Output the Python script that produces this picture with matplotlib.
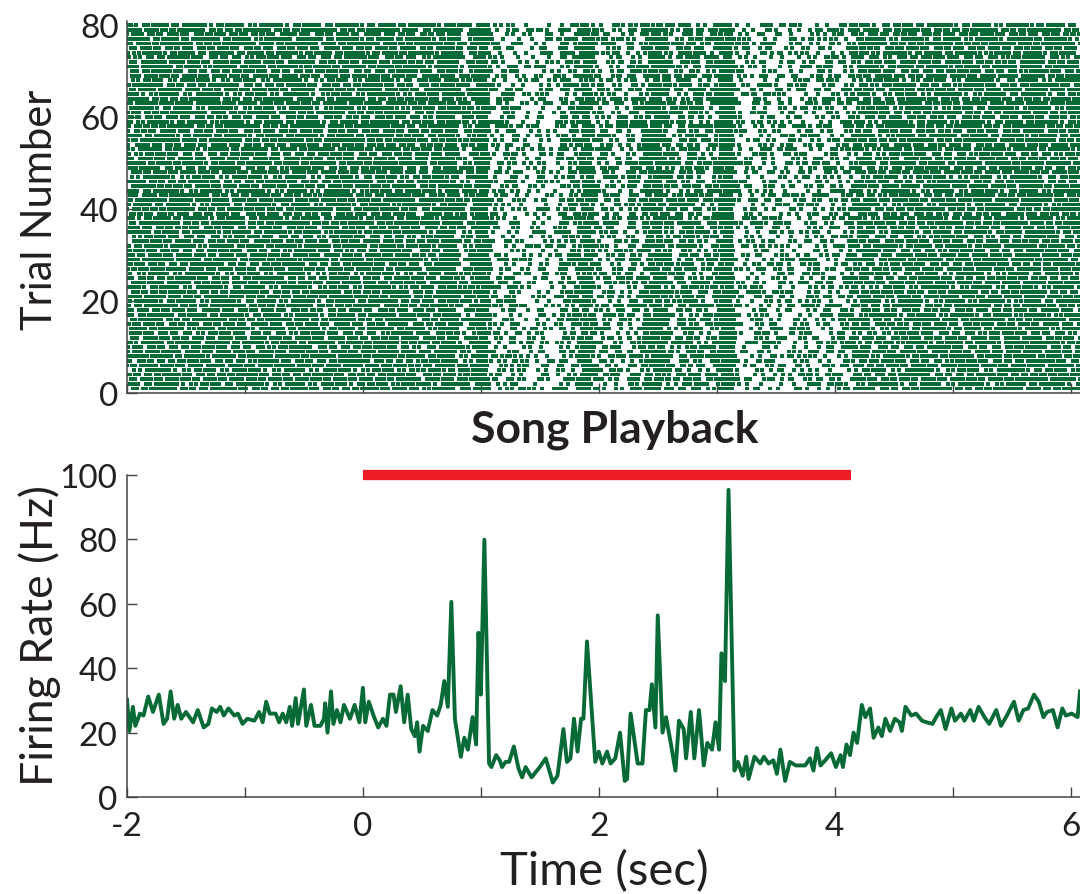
import numpy as np
import matplotlib
matplotlib.use("Agg")
import matplotlib.pyplot as plt

plt.rcParams['font.family'] = ['Lato', 'DejaVu Sans']

# PSTH (time in s, rate in Hz)
rate_t = [-2.00, -1.98, -1.95, -1.93, -1.89, -1.86, -1.82, -1.78, -1.73, -1.69,
          -1.66, -1.63, -1.60, -1.57, -1.54, -1.50, -1.44, -1.40, -1.35, -1.31,
          -1.28, -1.24, -1.21, -1.18, -1.14, -1.09, -1.06, -1.02, -0.98, -0.92,
          -0.88, -0.85, -0.82, -0.79, -0.74, -0.71, -0.68, -0.65, -0.62, -0.60,
          -0.57, -0.55, -0.50, -0.48, -0.44, -0.41, -0.36, -0.33, -0.32, -0.30,
          -0.27, -0.25, -0.22, -0.19, -0.16, -0.11, -0.07, -0.03, 0.00, 0.02,
          0.05, 0.09, 0.13, 0.17, 0.20, 0.23, 0.26, 0.28, 0.32, 0.35,
          0.38, 0.41, 0.44, 0.46, 0.48, 0.51, 0.55, 0.59, 0.63, 0.66,
          0.69, 0.72, 0.75, 0.78, 0.83, 0.86, 0.89, 0.93, 0.96, 0.98,
          1.00, 1.03, 1.07, 1.09, 1.13, 1.16, 1.18, 1.21, 1.24, 1.28,
          1.32, 1.35, 1.38, 1.43, 1.50, 1.55, 1.61, 1.65, 1.70, 1.73,
          1.76, 1.79, 1.82, 1.85, 1.87, 1.90, 1.97, 2.00, 2.03, 2.07,
          2.10, 2.14, 2.18, 2.22, 2.24, 2.27, 2.33, 2.37, 2.40, 2.43,
          2.45, 2.48, 2.50, 2.54, 2.57, 2.61, 2.65, 2.68, 2.72, 2.74,
          2.78, 2.81, 2.85, 2.89, 2.92, 2.96, 2.99, 3.02, 3.04, 3.07,
          3.10, 3.15, 3.18, 3.22, 3.25, 3.27, 3.32, 3.37, 3.40, 3.44,
          3.48, 3.51, 3.54, 3.58, 3.62, 3.67, 3.75, 3.79, 3.82, 3.85,
          3.88, 3.92, 3.97, 4.01, 4.05, 4.07, 4.10, 4.13, 4.16, 4.19,
          4.23, 4.26, 4.30, 4.33, 4.37, 4.40, 4.43, 4.47, 4.51, 4.55,
          4.57, 4.60, 4.65, 4.69, 4.74, 4.78, 4.83, 4.86, 4.90, 4.94,
          4.99, 5.02, 5.07, 5.10, 5.15, 5.18, 5.22, 5.27, 5.31, 5.37,
          5.41, 5.46, 5.52, 5.56, 5.60, 5.64, 5.69, 5.73, 5.77, 5.80,
          5.85, 5.89, 5.93, 5.96, 6.01, 6.06, 6.08]
rate_hz = [30.2, 20.5, 28.0, 22.1, 25.9, 25.3, 31.2, 26.4, 31.8, 22.7,
           24.3, 32.8, 24.3, 28.6, 24.3, 26.4, 23.2, 27.0, 21.6, 22.7,
           27.5, 26.4, 28.0, 25.3, 27.5, 25.3, 25.9, 22.7, 24.3, 23.7,
           26.4, 23.2, 29.6, 25.9, 25.9, 23.2, 25.9, 23.2, 28.0, 22.1,
           30.7, 22.7, 33.4, 22.1, 28.6, 22.1, 22.1, 24.3, 29.1, 20.0,
           32.8, 22.7, 27.0, 23.2, 28.6, 24.3, 28.6, 23.2, 33.9, 23.2,
           29.6, 25.3, 21.6, 24.3, 22.1, 31.8, 31.8, 26.4, 34.4, 23.2,
           31.8, 21.1, 18.9, 23.2, 14.1, 22.1, 20.5, 27.0, 25.3, 28.6,
           36.0, 28.0, 60.6, 24.3, 12.5, 18.4, 14.7, 24.8, 16.3, 51.0,
           31.8, 79.9, 10.4, 9.3, 13.0, 11.4, 9.3, 10.9, 10.9, 15.7,
           8.8, 6.1, 9.3, 6.1, 9.3, 12.0, 4.5, 6.6, 21.1, 10.9,
           12.0, 24.3, 14.1, 24.3, 24.3, 48.3, 10.9, 14.1, 10.4, 14.1,
           10.4, 12.0, 20.0, 5.0, 5.6, 25.9, 10.4, 10.4, 27.0, 27.0,
           35.0, 21.6, 56.4, 20.0, 24.8, 16.8, 8.2, 23.7, 21.1, 12.0,
           26.4, 12.0, 27.0, 9.8, 16.8, 14.7, 23.2, 14.7, 44.6, 36.0,
           95.4, 8.2, 10.9, 6.6, 12.5, 5.6, 12.5, 10.4, 12.5, 10.4,
           11.4, 7.2, 14.7, 5.0, 10.9, 9.8, 9.8, 12.0, 8.2, 15.2,
           9.8, 11.4, 13.6, 9.3, 13.0, 9.3, 16.3, 13.0, 20.0, 16.8,
           28.6, 24.8, 27.5, 18.4, 21.6, 18.9, 24.3, 20.5, 24.3, 23.2,
           20.5, 28.0, 25.3, 25.9, 23.7, 23.2, 22.7, 24.8, 27.0, 21.1,
           27.5, 23.7, 25.9, 23.7, 27.0, 23.7, 28.0, 24.8, 22.7, 27.0,
           22.1, 25.3, 29.6, 23.7, 27.0, 27.5, 31.8, 29.6, 24.8, 26.4,
           27.0, 21.6, 27.5, 25.3, 25.9, 24.8, 32.8]

# irregular inter-spike pattern (in units of the mean interval) used to lay out the raster
isi_pattern = [0.35, 1.7, 0.6, 1.1, 0.45, 2.2, 0.8, 0.5, 1.4, 0.9, 0.3, 1.9,
               0.7, 1.2, 0.55, 1.6, 0.4, 1.0, 2.4, 0.65, 0.85, 1.3, 0.5]

n_trials = 80
song_on, song_off = 0.0, 4.14
green = '#086a37'
red = '#ed1c24'
dark = '#231f20'

# spike trains per trial, laid out from the PSTH
t_fine = np.arange(-2.0, 6.08, 0.001)
r_fine = np.interp(t_fine, rate_t, rate_hz)
cum = np.cumsum(r_fine) * 0.001
n_pat = len(isi_pattern)
spikes = []
for j in range(1, n_trials + 1):
    gain = 1.15 + 0.6 * ((j * 0.618034) % 1.0)
    start = (j * 5) % n_pat
    order = [isi_pattern[(start + k * (1 + j % 3)) % n_pat] for k in range(500)]
    thresholds = np.cumsum(order) - ((j * 0.381966) % 1.0)
    c = cum * gain
    thresholds = thresholds[(thresholds > 0) & (thresholds < c[-1])]
    idx = np.searchsorted(c, thresholds)
    spikes.append(t_fine[idx])

fig = plt.figure(figsize=(10.8, 8.95), dpi=100)
ax1 = fig.add_axes([127 / 1080, 1 - 394 / 895, 1 - 127 / 1080, 372 / 895])
ax2 = fig.add_axes([127 / 1080, 1 - 798 / 895, 1 - 127 / 1080, 322 / 895])

for j, st in enumerate(spikes, start=1):
    ax1.vlines(st, j - 0.4, j + 0.4, color=green, linewidth=2.9)

ax2.plot(rate_t, rate_hz, color=green, linewidth=2.8)
ax2.plot([song_on, song_off], [100, 100], color=red, linewidth=7.4,
         solid_capstyle='butt', clip_on=False)

for ax in (ax1, ax2):
    ax.set_xlim(-2, 6.08)
    ax.set_xticks([-2, -1, 0, 1, 2, 3, 4, 5, 6])
    for s in ('top', 'right'):
        ax.spines[s].set_visible(False)
    for s in ('left', 'bottom'):
        ax.spines[s].set_color('#444444')
        ax.spines[s].set_linewidth(1.1)
    ax.tick_params(direction='in', length=7, width=1.0, color='#444444',
                   labelsize=24, labelcolor=dark)

ax1.set_ylim(0, 80.9)
ax1.set_yticks([0, 20, 40, 60, 80])
ax1.set_xticklabels([])
ax1.tick_params(axis='y', pad=6)

ax2.set_ylim(0, 100)
ax2.set_yticks([0, 20, 40, 60, 80, 100])
ax2.set_xticklabels(['-2', '', '0', '', '2', '', '4', '', '6'])
ax2.tick_params(axis='x', pad=10)
ax2.tick_params(axis='y', pad=7)

fig.text(40 / 1080, 1 - 210 / 895, 'Trial Number', rotation=90, fontsize=30,
         color=dark, ha='center', va='center')
fig.text(40 / 1080, 1 - 636 / 895, 'Firing Rate (Hz)', rotation=90, fontsize=32,
         color=dark, ha='center', va='center')
fig.text(604 / 1080, 1 - 872 / 895, 'Time (sec)', fontsize=34,
         color=dark, ha='center', va='center')
fig.text(615 / 1080, 1 - 430 / 895, 'Song Playback', fontsize=32,
         fontweight='bold', color=dark, ha='center', va='center')

fig.savefig('out.png', dpi=100)
